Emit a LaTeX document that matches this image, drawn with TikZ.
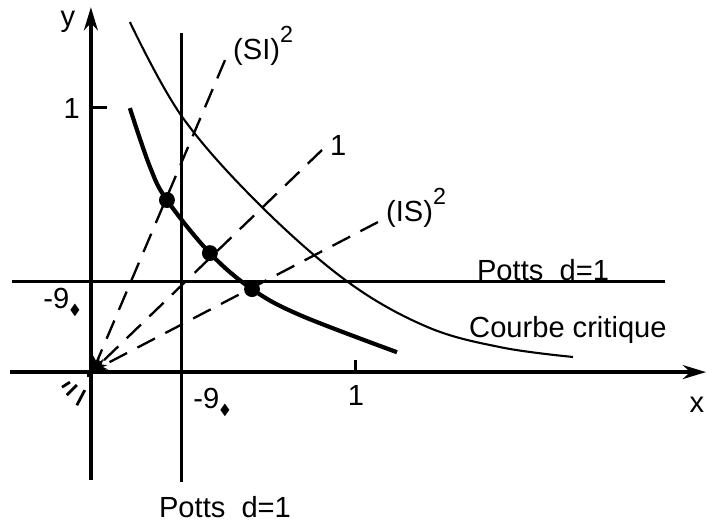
\documentclass[tikz,border=0pt]{standalone}
\usepackage{amssymb}
\usepackage{fontspec}
\setmainfont{Liberation Sans}
\usetikzlibrary{arrows.meta,positioning}

\begin{document}
\begin{tikzpicture}[x=4cm, y=4cm,
    every node/.style={font=\fontsize{12.5}{14}\selectfont},
    axis/.style={line width=1.4pt, -{Stealth[length=10pt, width=6pt]}},
    potts/.style={line width=1.3pt},
    flow/.style={line width=1pt, dash pattern=on 8.5pt off 5pt},
    crit/.style={line width=0.9pt},
    fixed/.style={line width=1.8pt},
    fp/.style={circle, fill=black, inner sep=0pt, minimum size=0.24cm}
]
\useasboundingbox (-0.343,-0.566) rectangle (2.321,1.404);

% axes
\draw[axis] (-0.306,0) -- (2.321,0);
\draw[axis] (0,-0.408) -- (0,1.377);
\draw[potts] (0,1) -- (0.06,1);
\draw[potts] (1,0) -- (1,0.045);
\node (ylab) at (-0.087,1.321) {y};
\node (xlab) at (2.287,-0.125) {x};
\node (yone) at (-0.072,0.996) {1};
\node (xone) at (1,-0.087) {1};

% Potts lines
\draw[potts] (-0.298,0.34) -- (2.166,0.34);
\draw[potts] (0.343,1.279) -- (0.343,-0.415);
\node (qy) at (-0.109,0.264) {-9\raisebox{-0.4ex}{$\scriptscriptstyle\blacklozenge$}};
\node (qx) at (0.457,-0.113) {-9\raisebox{-0.4ex}{$\scriptscriptstyle\blacklozenge$}};
\node (pottsh) at (1.706,0.385) {Potts\ \ d=1};
\node[inner sep=1pt] (pottsv) at (0.506,-0.508) {Potts\ \ d=1};

% curves
\draw[crit] plot[smooth, tension=0.6] coordinates {(0.147,1.321) (0.343,0.965) (0.638,0.630) (0.97,0.34) (1.27,0.17) (1.55,0.093) (1.819,0.057)};
\draw[fixed] plot[smooth, tension=0.6] coordinates {(0.147,0.996) (0.223,0.774) (0.287,0.649) (0.449,0.449) (0.608,0.313) (0.789,0.215) (1.155,0.075)};
\node (courbe) at (1.8,0.158) {Courbe critique};

% origin
\node[fill=black, inner sep=0pt, minimum size=0.09cm] (O) at (-0.005,-0.008) {};
\draw[line width=1.2pt] (-0.109,-0.057) -- (-0.079,-0.038);
\draw[line width=1.2pt] (-0.091,-0.087) -- (-0.053,-0.049);
\draw[line width=1.2pt] (-0.053,-0.125) -- (-0.023,-0.068);

% flow lines
\coordinate (si) at (0.506,1.177);
\coordinate (one) at (0.872,0.838);
\coordinate (is) at (1.083,0.566);
\draw[flow, -{Stealth[length=6pt, width=5pt]}] (si) -- (O.north east);
\draw[flow, -{Stealth[length=6pt, width=5pt]}] (one) -- (O.north east);
\draw[flow, -{Stealth[length=6pt, width=5pt]}] (is) -- (O.north east);
\node[right=0pt of si, yshift=6pt] (silab) {(SI)\raisebox{1.1ex}{\fontsize{10}{10}\selectfont 2}};
\node[right=0pt of one, yshift=2pt] (onelab) {1};
\node[right=0pt of is, yshift=6pt] (islab) {(IS)\raisebox{1.1ex}{\fontsize{10}{10}\selectfont 2}};

% fixed points
\node[fp] (p1) at (0.287,0.649) {};
\node[fp] (p2) at (0.449,0.449) {};
\node[fp] (p3) at (0.608,0.313) {};
\end{tikzpicture}
\end{document}
